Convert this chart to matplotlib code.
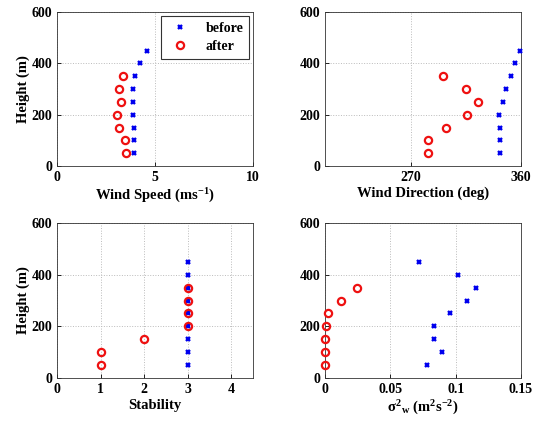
import matplotlib
matplotlib.use("Agg")
import matplotlib.pyplot as plt

plt.rcParams['font.family'] = ['Liberation Serif', 'DejaVu Serif']
plt.rcParams['font.weight'] = 'bold'
plt.rcParams['mathtext.fontset'] = 'custom'
plt.rcParams['mathtext.rm'] = 'Liberation Serif:bold'
plt.rcParams['mathtext.it'] = 'Liberation Serif:bold'
plt.rcParams['mathtext.bf'] = 'Liberation Serif:bold'

heights_before = [50, 100, 150, 200, 250, 300, 350, 400, 450]
heights_after = [50, 100, 150, 200, 250, 300, 350]

speed_before = [3.94, 3.94, 3.94, 3.89, 3.89, 3.86, 3.98, 4.23, 4.57]
speed_after = [3.52, 3.48, 3.17, 3.07, 3.24, 3.17, 3.38]

dir_before = [342.9, 342.9, 342.9, 341.8, 345.0, 348.0, 352.1, 355.1, 359.2]
dir_after = [284.1, 284.1, 298.5, 316.2, 325.2, 315.1, 296.1]

stab_before = [3, 3, 3, 3, 3, 3, 3, 3, 3]
stab_after = [1, 1, 2, 3, 3, 3, 3]

sigw_before = [0.0779, 0.0894, 0.0835, 0.0835, 0.0955, 0.1085, 0.1154, 0.1019, 0.0723]
sigw_after = [0.0, 0.0, 0.0003, 0.0005, 0.0023, 0.012, 0.0244]

fig = plt.figure(figsize=(5.37, 4.25), dpi=100)
W, H = 537, 425

def add_ax(x0, y0, x1, y1):
    return fig.add_axes([x0 / W, 1 - y1 / H, (x1 - x0) / W, (y1 - y0) / H])

ax1 = add_ax(57, 12, 253, 166)
ax2 = add_ax(325, 12, 521, 166)
ax3 = add_ax(57, 223, 253, 378)
ax4 = add_ax(325, 223, 521, 378)

panels = [
    (ax1, speed_before, speed_after, (0, 10), [0, 5, 10], ['0', '5', '10'], 'Wind Speed (ms$^{-1}$)', True),
    (ax2, dir_before, dir_after, (200, 360), [270, 360], ['270', '360'], 'Wind Direction (deg)', False),
    (ax3, stab_before, stab_after, (0, 4.5), [0, 1, 2, 3, 4], ['0', '1', '2', '3', '4'], 'Stability', True),
    (ax4, sigw_before, sigw_after, (0, 0.15), [0, 0.05, 0.1, 0.15], ['0', '0.05', '0.1', '0.15'],
     r'$\sigma^{2}{}_{\mathrm{w}}$ (m$^{2}$s$^{-2}$)', False),
]

for ax, xb, xa, xlim, xt, xtl, xlabel, ylab in panels:
    ax.plot(xb, heights_before, linestyle='none', marker='x', color='#0000ee',
            markersize=3.5, markeredgewidth=1.7, label='before', zorder=3, clip_on=False)
    ax.plot(xa, heights_after, linestyle='none', marker='o', color='#ee1111',
            markerfacecolor='none', markersize=5.2, markeredgewidth=1.6, label='after', zorder=3,
            clip_on=False)
    ax.set_xlim(*xlim)
    ax.set_ylim(0, 600)
    ax.set_xticks(xt)
    ax.set_xticklabels(xtl)
    ax.set_yticks([0, 200, 400, 600])
    ax.grid(True, linestyle=':', color='#bbbbbb', linewidth=0.7)
    ax.set_axisbelow(True)
    ax.tick_params(direction='in', length=3, labelsize=10, width=0.6)
    for lab in ax.get_xticklabels() + ax.get_yticklabels():
        lab.set_fontweight('bold')
    for s in ax.spines.values():
        s.set_linewidth(0.6)
        s.set_color('#333333')
    ax.set_xlabel(xlabel, fontsize=10.5, fontweight='bold', labelpad=2)
    if ylab:
        ax.set_ylabel('Height (m)', fontsize=10.5, fontweight='bold', labelpad=1)

leg = ax1.legend(loc='upper right', fontsize=10, frameon=True, fancybox=False,
                 edgecolor='black', borderpad=0.4, handletextpad=0.8, labelspacing=0.4,
                 borderaxespad=0.3)
leg.get_frame().set_linewidth(0.8)
for t in leg.get_texts():
    t.set_fontweight('bold')

fig.savefig('out.png', dpi=100)
